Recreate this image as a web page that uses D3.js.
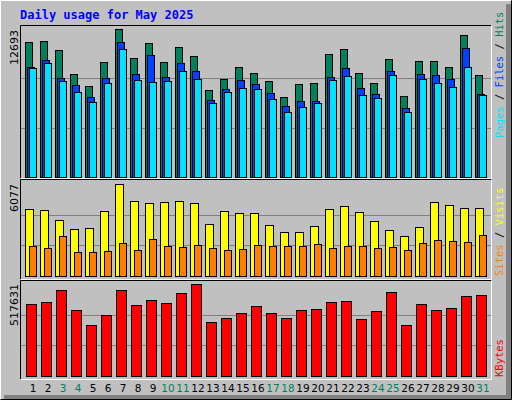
<!DOCTYPE html><html><head><meta charset="utf-8"><script src="https://d3js.org/d3.v7.min.js"></script>
<style>body{margin:0;background:#fff}</style></head><body><svg id="c" width="512" height="400"></svg>
<script>
const days=d3.range(1,32);
const weekend=[3,4,10,11,17,18,24,25,31];
const hits=[11574,11660,10885,8817,7783,9851,12693,10195,11488,9851,11143,10368,7438,8386,9420,8903,8214,6835,7955,8041,10540,10971,8903,8041,10109,6921,9937,9937,9420,12177,8731];
const files=[9420,10023,8472,7869,6835,8472,11574,8817,10454,8558,9765,9075,6577,7524,8300,7955,7180,6060,6491,6491,8558,9334,7611,7094,9075,5887,8817,8731,8386,11057,7094];
const pages=[9334,9765,8214,7266,6404,8041,10971,8300,8128,8214,9075,8386,6318,7266,7611,7524,6663,5543,5974,6318,8300,8645,7008,6749,8731,5543,8386,8041,7697,9420,7008];
const visits=[4420,4354,3690,3094,3160,4287,6077,4950,4817,4884,4950,4817,3425,4287,4155,4155,3359,2895,2895,3293,4420,4619,4221,3624,3028,2630,3226,4884,4685,4486,4486];
const sites=[1967,1834,2630,1569,1569,1635,2166,1702,2431,1967,1900,2033,1834,1702,1768,2033,1967,1967,1967,2099,1834,1967,1967,1834,1900,1702,2166,2365,2298,2232,2696];
const kbytes=[404288,415624,483635,370283,285269,341945,483635,398621,426959,409956,466632,517631,302272,324942,353280,392954,353280,324942,370283,375951,415624,421292,319274,364616,472300,285269,404288,370283,381618,449630,455297];
const maxLabels=["12693","6077","517631"];

const svg=d3.select("#c");
svg.append("rect").attr("width",512).attr("height",400).attr("fill","#C0C0C0");
svg.append("path").attr("d","M0.5,399.5V0.5H511.5").attr("stroke","#fff").attr("fill","none");
svg.append("rect").attr("x",506).attr("y",4).attr("width",6).attr("height",396).attr("fill","#808080");
svg.append("rect").attr("x",4).attr("y",395).attr("width",508).attr("height",5).attr("fill","#808080");
svg.append("path").attr("d","M0.5,399.5H511.5V0.5").attr("stroke","#000").attr("fill","none");
svg.append("text").attr("x",20).attr("y",19).text("Daily usage for May 2025")
 .attr("font-family","DejaVu Sans Mono").attr("font-weight","bold").attr("font-size",12).attr("fill","#0000FF");

const x=d3.scaleBand().domain(days).range([23,488]).paddingInner(0).paddingOuter(0);
const panels=[{t:25,b:178,y0:176.7,y1:29.3},{t:179,b:279,y0:276,y1:184.3},{t:280,b:379,y0:375.7,y1:284.3}];
panels.forEach(p=>{
 svg.append("path").attr("d",`M20.5,${p.b+0.5}V${p.t+0.5}H491.5`).attr("stroke","#000").attr("fill","none");
 svg.append("path").attr("d",`M20.5,${p.b+0.5}H491.5V${p.t+0.5}`).attr("stroke","#fff").attr("fill","none");
});
function grid(y,max){[max/3,2*max/3].forEach(v=>svg.append("line").attr("x1",21).attr("x2",491).attr("y1",Math.round(y(v))+0.5).attr("y2",Math.round(y(v))+0.5).attr("stroke","#808080"));}
function bars(data,y,off,w,color){
 svg.append("g").selectAll("rect").data(data).join("rect")
  .attr("x",(d,i)=>Math.round(x(days[i])+off)+0.5).attr("y",d=>Math.round(y(d))+0.5)
  .attr("width",w).attr("height",d=>Math.round(y(0))-Math.round(y(d)))
  .attr("fill",color).attr("stroke","#000");
}
const y1=d3.scaleLinear().domain([0,12693]).range([panels[0].y0,panels[0].y1]);
grid(y1,12693);
bars(hits,y1,2,7,"#00805C");bars(files,y1,4,7,"#0040FF");bars(pages,y1,6,7,"#00E0FF");
const y2=d3.scaleLinear().domain([0,6077]).range([panels[1].y0,panels[1].y1]);
grid(y2,6077);
bars(visits,y2,2,8,"#FFFF00");bars(sites,y2,6,7,"#FF8000");
const y3=d3.scaleLinear().domain([0,517631]).range([panels[2].y0,panels[2].y1]);
grid(y3,517631);
bars(kbytes,y3,3,10,"#FF0000");

[[30,maxLabels[0]],[184,maxLabels[1]],[284,maxLabels[2]]].forEach(([yy,t])=>{
 svg.append("text").attr("transform",`translate(18,${yy}) rotate(-90)`).attr("text-anchor","end")
  .attr("font-family","DejaVu Sans").attr("font-size",11).attr("fill","#000").text(t);
});
svg.selectAll(".dl").data(days).join("text").attr("x",d=>x(d)+10).attr("y",392).attr("text-anchor","middle")
 .attr("font-family","DejaVu Sans").attr("font-size",10.5).attr("fill",d=>weekend.includes(d)?"#00805C":"#000").text(d=>d);
function rlabel(yy,parts){
 const t=svg.append("text").attr("transform",`translate(503,${yy}) rotate(-90)`).attr("text-anchor","start")
  .attr("font-family","DejaVu Sans Mono").attr("font-size",10.5);
 parts.forEach(([s,c])=>t.append("tspan").attr("fill",c).text(s));
}
rlabel(138,[["Pages","#00E0FF"],[" / ","#000"],["Files","#0040FF"],[" / ","#000"],["Hits","#00805C"]]);
rlabel(276,[["Sites","#FF8000"],[" / ","#000"],["Visits","#FFFF00"]]);
rlabel(377,[["KBytes","#FF0000"]]);
</script></body></html>
